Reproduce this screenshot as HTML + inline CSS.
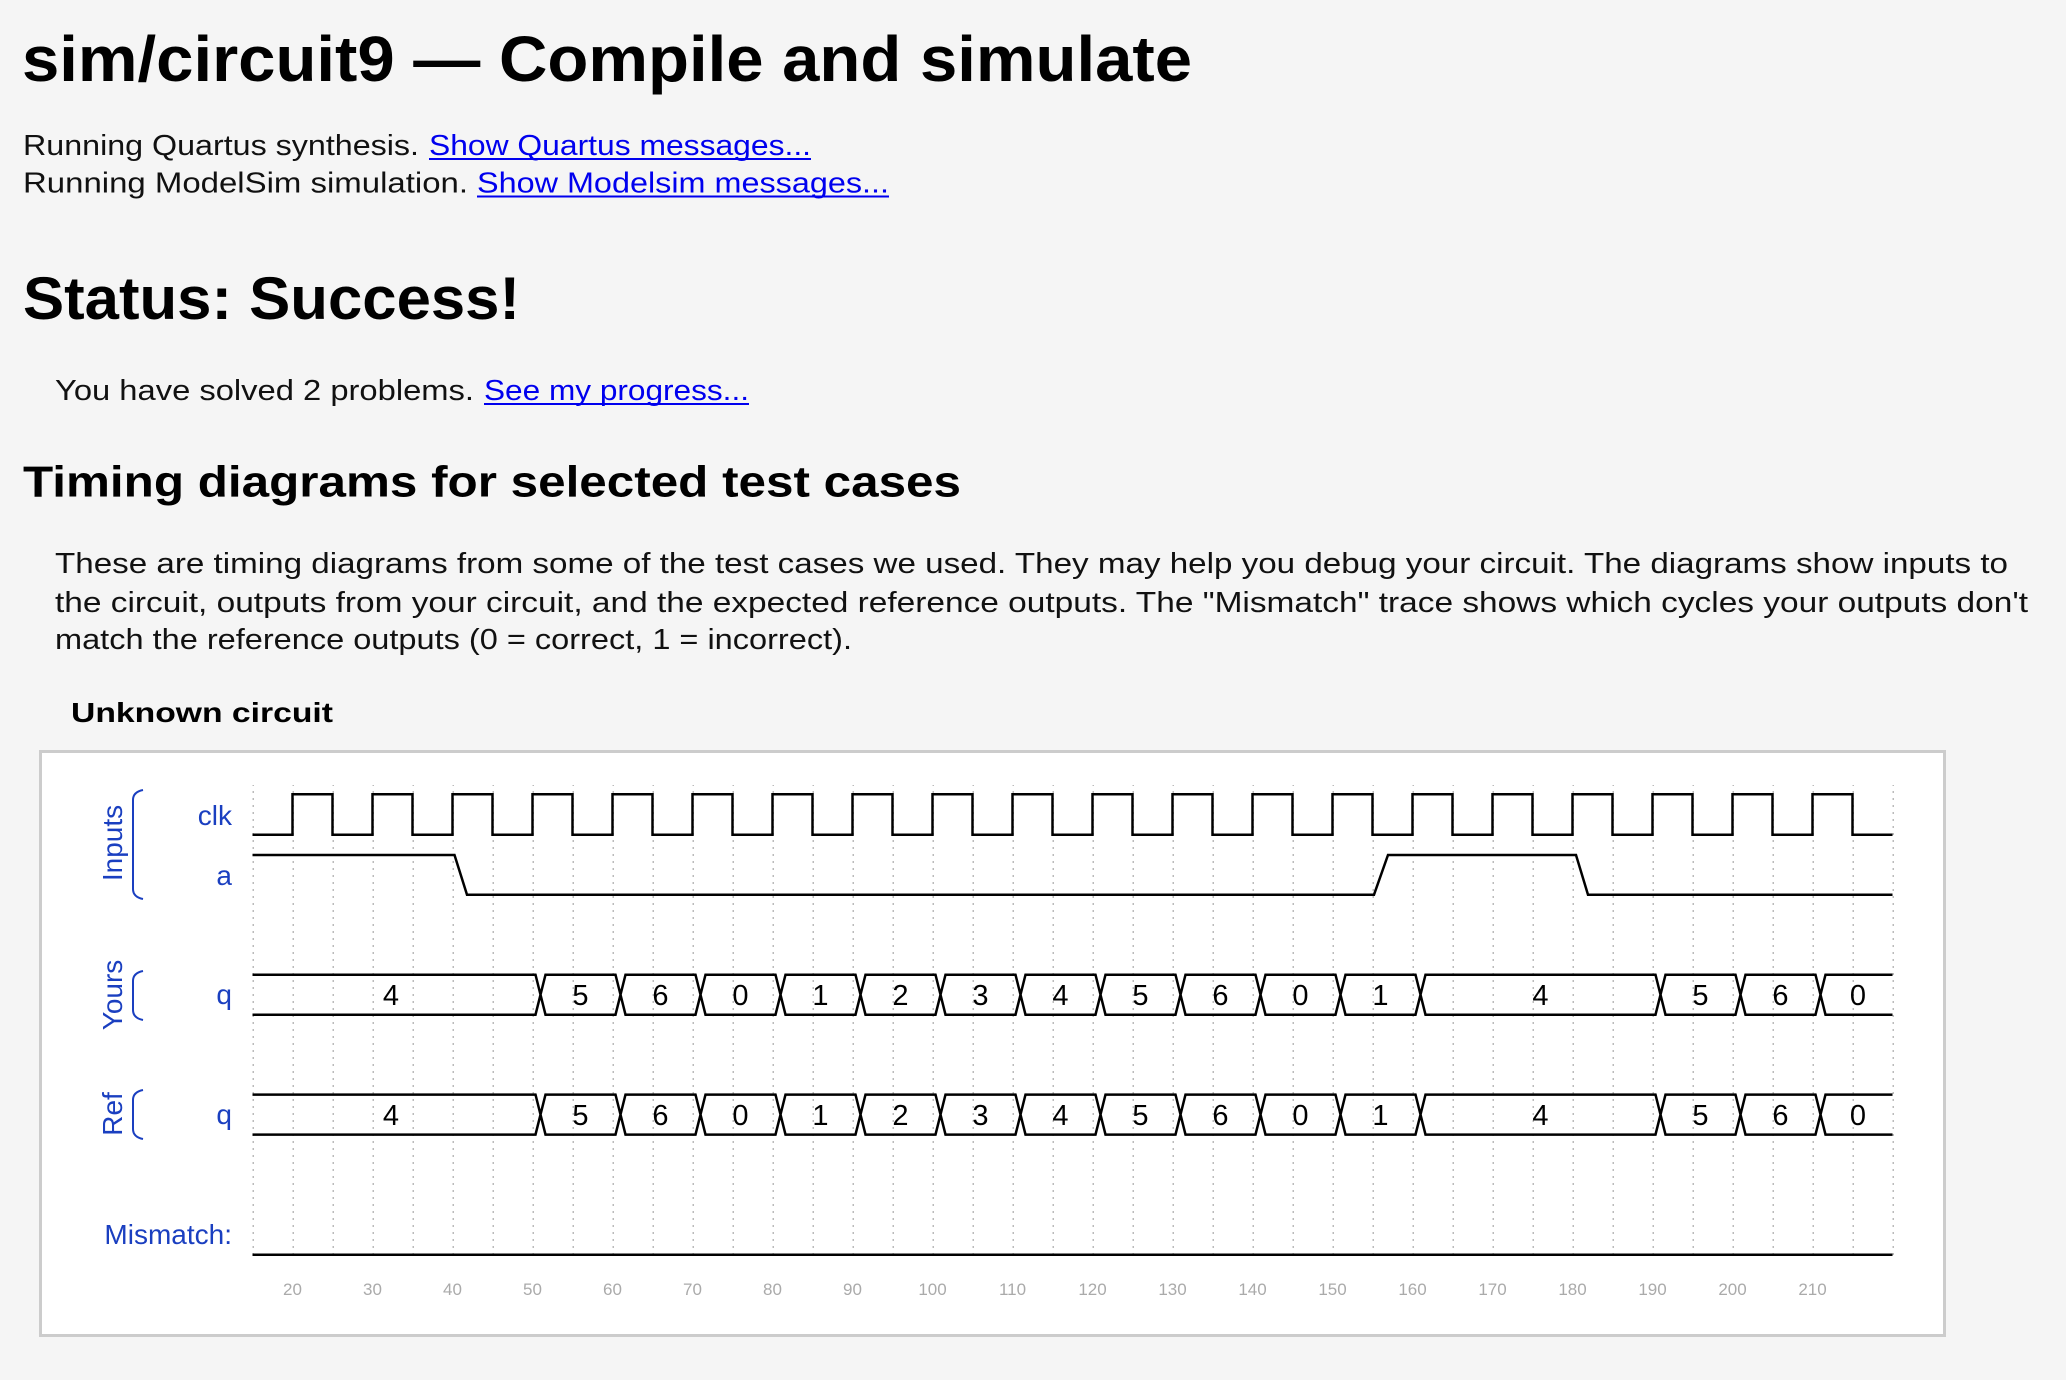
<!DOCTYPE html>
<html><head><meta charset="utf-8"><style>
html,body{margin:0;padding:0;background:#f5f5f5;}
svg{display:block;}
.h{font-family:"Liberation Sans",sans-serif;font-weight:bold;fill:#000;}
.t{font-family:"Liberation Sans",sans-serif;fill:#111;font-size:29px;}
.l{fill:#0000ee;}
.b{font-family:"Liberation Sans",sans-serif;fill:#1a3fc0;font-size:28px;}
.v{font-family:"Liberation Sans",sans-serif;fill:#000;font-size:29px;text-anchor:middle;}
.k{font-family:"Liberation Sans",sans-serif;fill:#aaa;font-size:17px;text-anchor:middle;}
</style></head><body>
<svg width="2066" height="1380" viewBox="0 0 2066 1380" xmlns="http://www.w3.org/2000/svg">
<defs>
<pattern id="g" x="252.5" y="0" width="40" height="1380" patternUnits="userSpaceOnUse">
<line x1="0.75" y1="0" x2="0.75" y2="1380" stroke="#bbb" stroke-width="1.5" stroke-dasharray="2,5"/>
</pattern>
<path id="bus" fill="none" stroke="#000" stroke-width="2.5" d="M252.5,0 H535.5 L540.5,20 L535.5,40 H252.5
M540.5,20 L545.5,0 H615.5 L620.5,20 L615.5,40 H545.5 Z
M620.5,20 L625.5,0 H695.5 L700.5,20 L695.5,40 H625.5 Z
M700.5,20 L705.5,0 H775.5 L780.5,20 L775.5,40 H705.5 Z
M780.5,20 L785.5,0 H855.5 L860.5,20 L855.5,40 H785.5 Z
M860.5,20 L865.5,0 H935.5 L940.5,20 L935.5,40 H865.5 Z
M940.5,20 L945.5,0 H1015.5 L1020.5,20 L1015.5,40 H945.5 Z
M1020.5,20 L1025.5,0 H1095.5 L1100.5,20 L1095.5,40 H1025.5 Z
M1100.5,20 L1105.5,0 H1175.5 L1180.5,20 L1175.5,40 H1105.5 Z
M1180.5,20 L1185.5,0 H1255.5 L1260.5,20 L1255.5,40 H1185.5 Z
M1260.5,20 L1265.5,0 H1335.5 L1340.5,20 L1335.5,40 H1265.5 Z
M1340.5,20 L1345.5,0 H1415.5 L1420.5,20 L1415.5,40 H1345.5 Z
M1420.5,20 L1425.5,0 H1655.5 L1660.5,20 L1655.5,40 H1425.5 Z
M1660.5,20 L1665.5,0 H1735.5 L1740.5,20 L1735.5,40 H1665.5 Z
M1740.5,20 L1745.5,0 H1815.5 L1820.5,20 L1815.5,40 H1745.5 Z
M1820.5,20 L1825.5,0 H1892.5 M1892.5,40 H1825.5 L1820.5,20"/>
</defs>

<text class="h" x="22" y="81" font-size="64" textLength="1170" lengthAdjust="spacingAndGlyphs">sim/circuit9 — Compile and simulate</text>

<text class="t" x="23" y="155" textLength="396" lengthAdjust="spacingAndGlyphs">Running Quartus synthesis.</text>
<text class="t l" x="429" y="155" textLength="382" lengthAdjust="spacingAndGlyphs">Show Quartus messages...</text>
<line x1="429" y1="159" x2="811" y2="159" stroke="#0000ee" stroke-width="2"/>
<text class="t" x="23" y="192.5" textLength="445" lengthAdjust="spacingAndGlyphs">Running ModelSim simulation.</text>
<text class="t l" x="477" y="192.5" textLength="412" lengthAdjust="spacingAndGlyphs">Show Modelsim messages...</text>
<line x1="477" y1="196.5" x2="889" y2="196.5" stroke="#0000ee" stroke-width="2"/>

<text class="h" x="23" y="319" font-size="60" textLength="497" lengthAdjust="spacingAndGlyphs">Status: Success!</text>

<text class="t" x="55" y="400" textLength="419" lengthAdjust="spacingAndGlyphs">You have solved 2 problems.</text>
<text class="t l" x="484" y="400" textLength="265" lengthAdjust="spacingAndGlyphs">See my progress...</text>
<line x1="484" y1="404" x2="749" y2="404" stroke="#0000ee" stroke-width="2"/>

<text class="h" x="23" y="496.5" font-size="44" textLength="938" lengthAdjust="spacingAndGlyphs">Timing diagrams for selected test cases</text>

<text class="t" x="55" y="573" textLength="1953" lengthAdjust="spacingAndGlyphs">These are timing diagrams from some of the test cases we used. They may help you debug your circuit. The diagrams show inputs to</text>
<text class="t" x="55" y="612" textLength="1973" lengthAdjust="spacingAndGlyphs">the circuit, outputs from your circuit, and the expected reference outputs. The "Mismatch" trace shows which cycles your outputs don't</text>
<text class="t" x="55" y="649" textLength="797" lengthAdjust="spacingAndGlyphs">match the reference outputs (0 = correct, 1 = incorrect).</text>

<text class="h" x="71" y="722" font-size="28" textLength="262" lengthAdjust="spacingAndGlyphs">Unknown circuit</text>

<rect x="40.5" y="751.5" width="1904" height="584" fill="#fff" stroke="#ccc" stroke-width="3"/>
<rect x="250" y="785" width="1646" height="473" fill="url(#g)"/>

<text class="b" transform="translate(122,843) rotate(-90)" text-anchor="middle">Inputs</text>
<text class="b" transform="translate(122,995) rotate(-90)" text-anchor="middle">Yours</text>
<text class="b" transform="translate(122,1114) rotate(-90)" text-anchor="middle">Ref</text>
<path d="M143,790 Q133,792 133,800 V889 Q133,897 143,899" fill="none" stroke="#1a3fc0" stroke-width="2"/>
<path d="M143,971 Q133,973 133,981 V1010 Q133,1018 143,1020" fill="none" stroke="#1a3fc0" stroke-width="2"/>
<path d="M143,1090 Q133,1092 133,1100 V1129 Q133,1137 143,1139" fill="none" stroke="#1a3fc0" stroke-width="2"/>
<text class="b" x="232" y="825" text-anchor="end">clk</text>
<text class="b" x="232" y="885" text-anchor="end">a</text>
<text class="b" x="232" y="1004" text-anchor="end">q</text>
<text class="b" x="232" y="1124" text-anchor="end">q</text>
<text class="b" x="232" y="1244" text-anchor="end">Mismatch:</text>

<path fill="none" stroke="#000" stroke-width="2.5" d="M252.5,834.7 H292.5 V794.3 H332.5 V834.7 H372.5 V794.3 H412.5 V834.7 H452.5 V794.3 H492.5 V834.7 H532.5 V794.3 H572.5 V834.7 H612.5 V794.3 H652.5 V834.7 H692.5 V794.3 H732.5 V834.7 H772.5 V794.3 H812.5 V834.7 H852.5 V794.3 H892.5 V834.7 H932.5 V794.3 H972.5 V834.7 H1012.5 V794.3 H1052.5 V834.7 H1092.5 V794.3 H1132.5 V834.7 H1172.5 V794.3 H1212.5 V834.7 H1252.5 V794.3 H1292.5 V834.7 H1332.5 V794.3 H1372.5 V834.7 H1412.5 V794.3 H1452.5 V834.7 H1492.5 V794.3 H1532.5 V834.7 H1572.5 V794.3 H1612.5 V834.7 H1652.5 V794.3 H1692.5 V834.7 H1732.5 V794.3 H1772.5 V834.7 H1812.5 V794.3 H1852.5 V834.7 H1892.5"/>
<path fill="none" stroke="#000" stroke-width="2.5" d="M252.5,855 H454.5 L467,894.7 H1374 L1388,855 H1576 L1588,894.7 H1892.5"/>

<use href="#bus" y="974.7"/>
<g>
<text class="v" x="391" y="1005">4</text>
<text class="v" x="580.5" y="1005">5</text>
<text class="v" x="660.5" y="1005">6</text>
<text class="v" x="740.5" y="1005">0</text>
<text class="v" x="820.5" y="1005">1</text>
<text class="v" x="900.5" y="1005">2</text>
<text class="v" x="980.5" y="1005">3</text>
<text class="v" x="1060.5" y="1005">4</text>
<text class="v" x="1140.5" y="1005">5</text>
<text class="v" x="1220.5" y="1005">6</text>
<text class="v" x="1300.5" y="1005">0</text>
<text class="v" x="1380.5" y="1005">1</text>
<text class="v" x="1540.5" y="1005">4</text>
<text class="v" x="1700.5" y="1005">5</text>
<text class="v" x="1780.5" y="1005">6</text>
<text class="v" x="1858" y="1005">0</text>
</g>
<use href="#bus" y="1094.6"/>
<g>
<text class="v" x="391" y="1125">4</text>
<text class="v" x="580.5" y="1125">5</text>
<text class="v" x="660.5" y="1125">6</text>
<text class="v" x="740.5" y="1125">0</text>
<text class="v" x="820.5" y="1125">1</text>
<text class="v" x="900.5" y="1125">2</text>
<text class="v" x="980.5" y="1125">3</text>
<text class="v" x="1060.5" y="1125">4</text>
<text class="v" x="1140.5" y="1125">5</text>
<text class="v" x="1220.5" y="1125">6</text>
<text class="v" x="1300.5" y="1125">0</text>
<text class="v" x="1380.5" y="1125">1</text>
<text class="v" x="1540.5" y="1125">4</text>
<text class="v" x="1700.5" y="1125">5</text>
<text class="v" x="1780.5" y="1125">6</text>
<text class="v" x="1858" y="1125">0</text>
</g>

<line x1="252.5" y1="1254.7" x2="1892.5" y2="1254.7" stroke="#000" stroke-width="2.5"/>

<g>
<text class="k" x="292.5" y="1295">20</text>
<text class="k" x="372.5" y="1295">30</text>
<text class="k" x="452.5" y="1295">40</text>
<text class="k" x="532.5" y="1295">50</text>
<text class="k" x="612.5" y="1295">60</text>
<text class="k" x="692.5" y="1295">70</text>
<text class="k" x="772.5" y="1295">80</text>
<text class="k" x="852.5" y="1295">90</text>
<text class="k" x="932.5" y="1295">100</text>
<text class="k" x="1012.5" y="1295">110</text>
<text class="k" x="1092.5" y="1295">120</text>
<text class="k" x="1172.5" y="1295">130</text>
<text class="k" x="1252.5" y="1295">140</text>
<text class="k" x="1332.5" y="1295">150</text>
<text class="k" x="1412.5" y="1295">160</text>
<text class="k" x="1492.5" y="1295">170</text>
<text class="k" x="1572.5" y="1295">180</text>
<text class="k" x="1652.5" y="1295">190</text>
<text class="k" x="1732.5" y="1295">200</text>
<text class="k" x="1812.5" y="1295">210</text>
</g>
</svg>
</body></html>
